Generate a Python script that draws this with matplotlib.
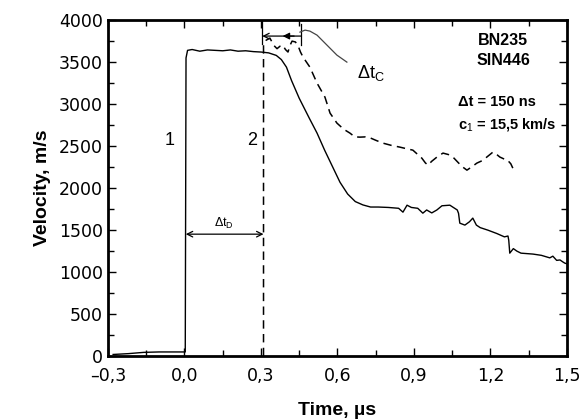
import matplotlib
matplotlib.use("Agg")
import matplotlib.pyplot as plt
from matplotlib.ticker import MultipleLocator, FuncFormatter
import numpy as np

plt.rcParams['font.family'] = ['Liberation Sans', 'DejaVu Sans']
plt.rcParams['mathtext.fontset'] = 'custom'
plt.rcParams['mathtext.rm'] = 'Liberation Sans'
plt.rcParams['mathtext.bf'] = 'Liberation Sans:bold'

# curve 1 (solid)
t1 = [-0.28, -0.22, -0.16, -0.10, -0.02, 0.003, 0.006, 0.012, 0.03, 0.06, 0.09,
      0.12, 0.15, 0.18, 0.21, 0.24, 0.27, 0.30, 0.33, 0.36, 0.38, 0.40, 0.42,
      0.45, 0.49, 0.52, 0.55, 0.58, 0.61, 0.64, 0.67, 0.70, 0.73, 0.76, 0.80,
      0.84, 0.857, 0.873, 0.89, 0.915, 0.935, 0.95, 0.97, 0.99, 1.01, 1.041,
      1.07, 1.075, 1.08, 1.10, 1.118, 1.131, 1.145, 1.16, 1.19, 1.225, 1.255,
      1.269, 1.272, 1.276, 1.29, 1.304, 1.32, 1.367, 1.40, 1.433, 1.445, 1.46,
      1.473, 1.485, 1.492, 1.5]
v1 = [20, 30, 45, 50, 50, 50, 3550, 3640, 3650, 3630, 3645, 3640, 3635, 3645,
      3630, 3635, 3625, 3620, 3610, 3580, 3530, 3440, 3280, 3070, 2830, 2655,
      2450, 2260, 2070, 1930, 1840, 1800, 1775, 1775, 1770, 1760, 1714, 1797,
      1770, 1760, 1702, 1740, 1705, 1740, 1790, 1797, 1740, 1700, 1583, 1560,
      1600, 1643, 1560, 1530, 1500, 1460, 1420, 1430, 1380, 1226, 1280, 1250,
      1226, 1215, 1200, 1170, 1190, 1140, 1145, 1120, 1107, 1100]

# curve 2 (dashed)
t2 = [0.31, 0.31, 0.32, 0.335, 0.35, 0.363, 0.375, 0.386, 0.396, 0.406, 0.414,
      0.422, 0.435, 0.445, 0.455, 0.465, 0.492, 0.52, 0.551, 0.571, 0.598,
      0.625, 0.649, 0.668, 0.688, 0.71, 0.727, 0.75, 0.778, 0.81, 0.845, 0.87,
      0.896, 0.915, 0.931, 0.945, 0.955, 0.97, 0.99, 1.014, 1.035, 1.053,
      1.075, 1.092, 1.108, 1.13, 1.147, 1.17, 1.186, 1.21, 1.225, 1.237, 1.255,
      1.265, 1.28, 1.288]
v2 = [0, 3720, 3760, 3786, 3700, 3660, 3690, 3700, 3650, 3620, 3700, 3750,
      3740, 3700, 3620, 3560, 3440, 3250, 3083, 2893, 2774, 2700, 2655, 2610,
      2607, 2610, 2600, 2570, 2536, 2510, 2488, 2470, 2452, 2400, 2357, 2300,
      2274, 2320, 2369, 2417, 2400, 2370, 2300, 2250, 2214, 2260, 2298, 2330,
      2370, 2429, 2400, 2370, 2345, 2340, 2290, 2238]

# leader line to the delta t_C label
lead_t = [0.453, 0.473, 0.492, 0.52, 0.559, 0.598, 0.637]
lead_v = [3857, 3881, 3869, 3821, 3702, 3583, 3500]

fig = plt.figure(figsize=(5.82, 4.19), dpi=100)
ax = fig.add_axes([0.1856, 0.150, 0.7884, 0.802])

ax.plot(t1, v1, color='black', lw=1.0)
ax.plot(t2, v2, color='black', lw=1.1, dashes=(5.5, 3.5))

# Δt_C bracket
ax.plot([0.305, 0.305], [3720, 4000], color='black', lw=0.9)
ax.plot([0.458, 0.458], [3700, 3950], color='black', lw=0.9)
ax.annotate('', xy=(0.305, 3810), xytext=(0.458, 3810),
            arrowprops=dict(arrowstyle='->', color='black', lw=0.9,
                            shrinkA=0, shrinkB=0))
ax.annotate('', xy=(0.385, 3810), xytext=(0.43, 3810),
            arrowprops=dict(arrowstyle='-|>', color='black', lw=0.9,
                            mutation_scale=10, shrinkA=0, shrinkB=0))
ax.plot(lead_t, lead_v, color='#444444', lw=0.9)
ax.text(0.675, 3370, 'Δt$_\\mathrm{C}$', fontsize=13, va='center', ha='left')

# Δt_D arrow
ax.annotate('', xy=(0.005, 1452), xytext=(0.31, 1452),
            arrowprops=dict(arrowstyle='<->', color='black', lw=0.9,
                            shrinkA=0, shrinkB=0))
ax.text(0.155, 1575, 'Δt$_\\mathrm{D}$', fontsize=9, ha='center', va='center')

ax.text(-0.06, 2570, '1', fontsize=13, ha='center', va='center')
ax.text(0.265, 2570, '2', fontsize=13, ha='center', va='center')

ax.text(1.25, 3760, 'BN235', fontsize=11.5, fontweight='bold', ha='center', va='center')
ax.text(1.25, 3520, 'SIN446', fontsize=11.5, fontweight='bold', ha='center', va='center')
ax.text(1.073, 3024, 'Δt = 150 ns', fontsize=10.5, fontweight='bold', ha='left', va='center')
ax.text(1.073, 2750, 'c$_1$ = 15,5 km/s', fontsize=10.5, fontweight='bold', ha='left', va='center')

ax.set_xlim(-0.3, 1.5)
ax.set_ylim(0, 4000)
ax.xaxis.set_major_locator(MultipleLocator(0.3))
ax.xaxis.set_minor_locator(MultipleLocator(0.15))
ax.yaxis.set_major_locator(MultipleLocator(500))
ax.yaxis.set_minor_locator(MultipleLocator(250))
ax.xaxis.set_major_formatter(FuncFormatter(
    lambda x, p: f"{x:.1f}".replace('.', ',').replace('-', '\u2013')))
ax.tick_params(which='both', direction='in', top=True, right=True)
ax.tick_params(which='major', length=6, width=1)
ax.tick_params(which='minor', length=4, width=1)
ax.tick_params(axis='x', pad=8)
for lab in ax.get_xticklabels() + ax.get_yticklabels():
    lab.set_family(['DejaVu Sans'])
    lab.set_fontsize(12.5)
for s in ax.spines.values():
    s.set_linewidth(2)

ax.set_xlabel('Time, µs', fontsize=14, fontweight='bold', labelpad=12)
ax.set_ylabel('Velocity, m/s', fontsize=14, fontweight='bold', labelpad=6)

fig.savefig('out.png', dpi=100)
